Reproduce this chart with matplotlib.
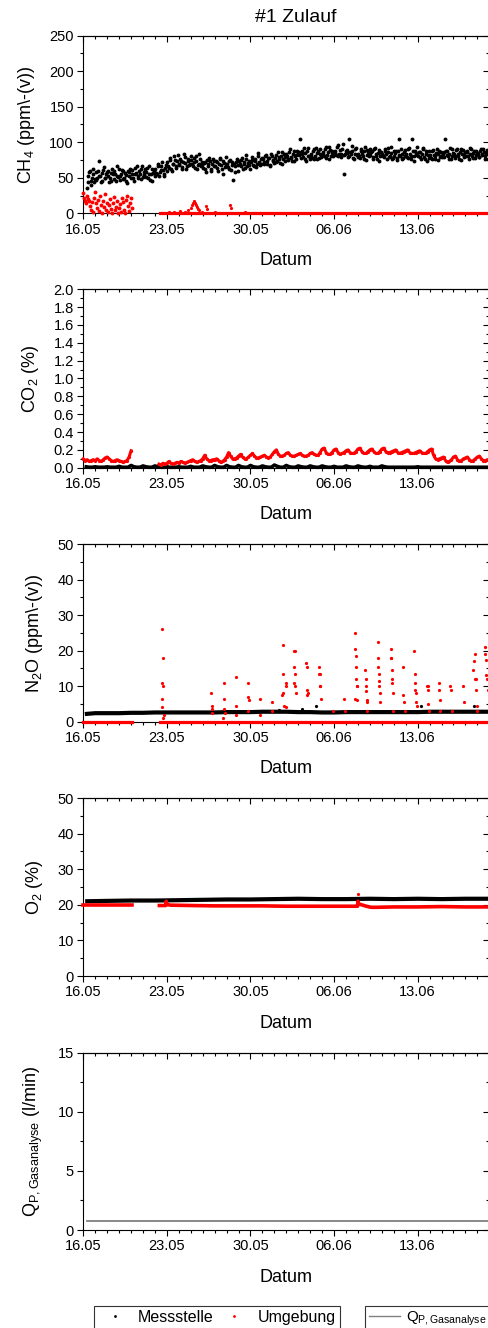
import matplotlib
matplotlib.use("Agg")
import matplotlib.pyplot as plt
import matplotlib.dates as mdates
from matplotlib.lines import Line2D
from matplotlib.ticker import MultipleLocator, FixedLocator, FormatStrFormatter
import numpy as np
import pandas as pd

plt.rcParams['font.family'] = ['Liberation Sans', 'DejaVu Sans']
plt.rcParams['mathtext.fontset'] = 'custom'
plt.rcParams['mathtext.rm'] = 'Liberation Sans'
plt.rcParams['mathtext.it'] = 'Liberation Sans:italic'
plt.rcParams['mathtext.bf'] = 'Liberation Sans:bold'

# ---------------- data ----------------
title = "#1 Zulauf"
base_date = "2019-05-16"
x_end_date = "2019-06-19"
tick_dates = ["2019-05-16", "2019-05-23", "2019-05-30", "2019-06-06", "2019-06-13"]
series_labels = ["Messstelle", "Umgebung"]
flow_label = r"Q$_{\mathrm{P,Gasanalyse}}$"

# CH4 Messstelle, readings every 3 h from 16.05 07:00 (a) and from 08:30 (b)
ch4_mess_a_start = "2019-05-16 07:00"
ch4_mess_a = [
    36, 52, 60, 45, 55, 44,
    58, 49, 74, 53, 46, 61, 50, 55,
    52, 44, 57, 63, 48, 55, 66, 51,
    47, 56, 60, 50, 54, 43, 58, 62,
    55, 49, 64, 57, 52, 60, 48, 67,
    54, 62, 58, 50, 66, 56, 46, 60,
    63, 55, 70, 58, 66, 61, 52, 68,
    72, 64, 78, 60, 70, 75, 66, 82,
    68, 74, 62, 84, 71, 66, 77, 70,
    75, 66, 72, 80, 63, 70, 76, 68,
    64, 72, 58, 70, 78, 62, 69, 74,
    66, 72, 60, 76, 68, 55, 71, 79,
    70, 63, 75, 68, 47, 66, 72, 60,
    73, 67, 78, 70, 64, 82, 71, 68,
    72, 79, 66, 74, 70, 85, 68, 76,
    76, 70, 82, 73, 78, 68, 80, 74,
    78, 72, 86, 76, 81, 70, 84, 79,
    80, 75, 90, 78, 84, 73, 82, 88,
    82, 104, 88, 79, 85, 74, 92, 80,
    84, 78, 90, 81, 76, 88, 83, 79,
    86, 80, 93, 82, 77, 89, 85, 81,
    88, 82, 96, 84, 79, 91, 55, 83,
    85, 79, 104, 83, 88, 76, 90, 82,
    84, 78, 91, 80, 87, 75, 89, 81,
    82, 88, 77, 92, 80, 85, 74, 86,
    83, 79, 90, 76, 86, 81, 93, 78,
    81, 87, 75, 105, 80, 84, 78, 89,
    84, 78, 92, 80, 104, 74, 88, 82,
    80, 86, 76, 90, 79, 84, 73, 87,
    82, 77, 89, 80, 85, 75, 88, 81,
    79, 86, 104, 88, 81, 83, 76, 90,
    83, 78, 91, 80, 86, 75, 89, 82,
    81, 87, 77, 92, 80, 85, 78, 88,
    84, 79, 90, 82, 86, 76, 89, 83,
]
ch4_mess_b_start = "2019-05-16 08:30"
ch4_mess_b = [
    44, 58, 40, 50, 62, 48,
    47, 60, 52, 44, 57, 65, 49, 58,
    60, 50, 46, 55, 59, 45, 53, 62,
    53, 61, 48, 57, 45, 59, 52, 49,
    61, 46, 56, 66, 50, 55, 63, 51,
    58, 51, 64, 55, 47, 62, 57, 53,
    57, 66, 52, 61, 72, 56, 64, 59,
    66, 75, 62, 70, 80, 64, 73, 69,
    76, 65, 72, 79, 63, 74, 68, 81,
    70, 78, 64, 73, 68, 84, 66, 72,
    71, 62, 75, 66, 73, 60, 77, 67,
    73, 64, 69, 78, 62, 74, 65, 70,
    65, 74, 61, 72, 70, 58, 76, 68,
    69, 75, 63, 72, 77, 66, 74, 62,
    75, 68, 77, 65, 80, 72, 70, 78,
    72, 80, 70, 78, 66, 83, 75, 71,
    82, 74, 79, 71, 86, 77, 73, 83,
    77, 86, 79, 74, 88, 81, 76, 85,
    86, 78, 83, 92, 77, 88, 81, 76,
    80, 87, 76, 92, 85, 78, 90, 82,
    83, 91, 78, 86, 94, 80, 88, 84,
    85, 94, 80, 89, 83, 97, 82, 88,
    89, 80, 86, 95, 78, 84, 92, 79,
    80, 88, 84, 77, 93, 82, 86, 90,
    86, 79, 91, 83, 76, 89, 81, 84,
    80, 88, 83, 92, 79, 85, 77, 87,
    85, 78, 88, 82, 91, 77, 86, 80,
    79, 90, 83, 76, 88, 81, 85, 93,
    86, 79, 84, 92, 77, 88, 82, 78,
    78, 87, 82, 76, 90, 84, 79, 86,
    84, 79, 88, 82, 77, 92, 80, 85,
    80, 89, 83, 77, 91, 84, 79, 86,
    86, 80, 84, 90, 78, 88, 82, 85,
    79, 88, 83, 91, 80, 85, 77, 87,
]
# CH4 Umgebung, part 1 every 2 h from 16.05 00:00
ch4_umg1_start = "2019-05-16 00:00"
ch4_umg1 = [
    28, 22, 18, 15, 25, 20, 17, 10, 5, 16, 2, 22,
    30, 14, 8, 19, 3, 24, 12, 1, 17, 9, 27, 5,
    15, 2, 11, 20, 6, 0, 14, 23, 4, 9, 18, 1,
    7, 13, 2, 22, 16, 5, 0, 19, 25, 10, 3, 14,
    21, 8,
]
# CH4 Umgebung, part 2: baseline (days since 16.05) and single readings
ch4_umg2_day = [6.4, 34.0]
ch4_umg2_val = [0.0, 0.0]
ch4_umg_pts_day = [7.2, 7.6, 8.1, 8.5, 8.8, 9.0, 9.1, 9.2, 9.3, 9.35, 9.4, 9.5,
                   9.6, 9.7, 9.9, 10.3, 10.35, 11.0, 12.3, 12.35, 13.5, 14.8]
ch4_umg_pts_val = [2, 1.5, 3, 2, 5, 8, 11, 14, 17, 15, 12, 9,
                   6, 4, 2, 10, 6, 2, 12, 7, 1.5, 1]

# CO2 Messstelle, every 6 h from 16.05 06:00
co2_mess_start = "2019-05-16 06:00"
co2_mess = [
    0.01, 0.005, 0.005,
    0.01, 0.005, 0.005, 0.005,
    0.01, 0.005, 0.005, 0.005,
    0.015, 0.005, 0.005, 0.005,
    0.025, 0.01, 0.005, 0.005,
    0.02, 0.01, 0.005, 0.005,
    0.02, 0.01, 0.005, 0.005,
    0.01, 0.005, 0.005, 0.005,
    0.01, 0.005, 0.005, 0.005,
    0.015, 0.005, 0.005, 0.005,
    0.02, 0.01, 0.005, 0.005,
    0.025, 0.01, 0.005, 0.005,
    0.025, 0.01, 0.005, 0.005,
    0.025, 0.01, 0.005, 0.005,
    0.025, 0.01, 0.005, 0.005,
    0.02, 0.01, 0.005, 0.005,
    0.03, 0.015, 0.005, 0.005,
    0.025, 0.01, 0.005, 0.005,
    0.02, 0.01, 0.005, 0.005,
    0.02, 0.01, 0.005, 0.005,
    0.02, 0.01, 0.005, 0.005,
    0.015, 0.005, 0.005, 0.005,
    0.02, 0.01, 0.005, 0.005,
    0.02, 0.01, 0.005, 0.005,
    0.015, 0.005, 0.005, 0.005,
    0.02, 0.01, 0.005, 0.005,
    0.005, 0.005, 0.005, 0.005,
    0.005, 0.005, 0.005, 0.005,
    0.01, 0.005, 0.005, 0.005,
    0.005, 0.005, 0.005, 0.005,
    0.005, 0.005, 0.005, 0.005,
    0.005, 0.005, 0.005, 0.005,
    0.005, 0.005, 0.005, 0.005,
    0.005, 0.005, 0.005, 0.005,
    0.005,
]
# CO2 Umgebung, every 4 h
co2_umg1_start = "2019-05-16 00:00"
co2_umg1 = [
    0.10, 0.08, 0.09, 0.07, 0.08, 0.09,
    0.08, 0.10, 0.08, 0.07, 0.09, 0.11,
    0.12, 0.10, 0.08, 0.07, 0.08, 0.09,
    0.08, 0.07, 0.06, 0.07, 0.08, 0.12,
    0.19,
]
co2_umg2_start = "2019-05-22 08:00"
co2_umg2 = [
    0.04, 0.03, 0.05, 0.04,
    0.05, 0.07, 0.05, 0.04, 0.05, 0.06,
    0.05, 0.07, 0.06, 0.05, 0.06, 0.07,
    0.08, 0.09, 0.07, 0.06, 0.07, 0.08,
    0.10, 0.14, 0.10, 0.08, 0.08, 0.09,
    0.09, 0.10, 0.08, 0.06, 0.07, 0.09,
    0.12, 0.17, 0.13, 0.10, 0.10, 0.11,
    0.13, 0.15, 0.12, 0.10, 0.10, 0.12,
    0.14, 0.16, 0.13, 0.11, 0.11, 0.12,
    0.13, 0.14, 0.12, 0.11, 0.12, 0.15,
    0.18, 0.20, 0.15, 0.13, 0.13, 0.14,
    0.16, 0.17, 0.14, 0.13, 0.13, 0.14,
    0.15, 0.16, 0.14, 0.13, 0.13, 0.14,
    0.16, 0.17, 0.15, 0.14, 0.14, 0.17,
    0.21, 0.22, 0.17, 0.15, 0.15, 0.17,
    0.20, 0.21, 0.17, 0.15, 0.16, 0.17,
    0.19, 0.20, 0.17, 0.16, 0.16, 0.18,
    0.21, 0.22, 0.18, 0.16, 0.16, 0.18,
    0.20, 0.21, 0.18, 0.16, 0.16, 0.18,
    0.21, 0.22, 0.18, 0.17, 0.17, 0.18,
    0.19, 0.20, 0.17, 0.16, 0.17, 0.18,
    0.19, 0.20, 0.17, 0.16, 0.16, 0.17,
    0.18, 0.19, 0.17, 0.16, 0.16, 0.18,
    0.20, 0.21, 0.14, 0.10, 0.09, 0.10,
    0.11, 0.12, 0.08, 0.06, 0.07, 0.09,
    0.12, 0.13, 0.09, 0.07, 0.08, 0.10,
    0.11, 0.12, 0.09, 0.07, 0.08, 0.10,
    0.12, 0.13, 0.10, 0.08, 0.08, 0.09,
    0.08,
]

# N2O Messstelle (days since 16.05)
n2o_mess_day = [0.3, 1, 2, 3, 4, 5, 6, 7, 8, 9, 10, 11, 12, 13, 14, 15, 16, 17,
                18, 19, 20, 21, 22, 23, 24, 25, 26, 27, 28, 29, 30, 31, 32, 33, 34]
n2o_mess_val = [2.2, 2.4, 2.4, 2.4, 2.5, 2.5, 2.6, 2.6, 2.6, 2.6, 2.6, 2.6, 2.7,
                2.7, 2.7, 2.8, 2.8, 2.8, 2.7, 2.7, 2.6, 2.6, 2.7, 2.7, 2.7, 2.7,
                2.7, 2.7, 2.7, 2.8, 2.8, 2.8, 2.8, 2.8, 2.8]
n2o_mess_pts_day = [16.4, 18.3, 19.5, 28.3, 32.7]
n2o_mess_pts_val = [3.3, 3.6, 4.5, 4.5, 4.4]
# N2O Umgebung
n2o_umg1_day = [0.0, 4.1]
n2o_umg1_val = [0.0, 0.0]
n2o_umg2_day = [6.4, 34.0]
n2o_umg2_val = [0.0, 0.0]
n2o_umg_pts_day = [
    6.55, 6.62, 6.66, 6.58, 6.70, 6.61, 6.68, 6.75,
    10.72, 10.77, 10.80, 10.75,
    11.75, 11.80, 11.78, 11.85, 11.70,
    12.78, 12.80, 12.75,
    13.78, 13.82, 13.85, 13.80,
    14.78, 14.82,
    15.78, 15.82,
    16.70, 16.72, 16.75, 16.68, 16.78,
    16.95, 17.00, 16.98,
    17.62, 17.68, 17.70, 17.75, 17.65, 17.72, 17.80,
    18.65, 18.70, 18.72, 18.78, 18.75,
    19.75, 19.78, 19.82, 19.85, 19.80, 19.88,
    20.90,
    21.82, 21.88,
    22.75, 22.77, 22.80, 22.82, 22.85, 22.88, 22.90, 22.78, 22.95,
    23.62, 23.65, 23.70, 23.68, 23.75, 23.72, 23.80,
    24.65, 24.70, 24.72, 24.75, 24.78, 24.80, 24.82, 24.88,
    25.75, 25.78, 25.80, 25.82, 25.85, 25.88, 25.90, 25.95,
    26.75, 26.80, 26.85, 26.90,
    27.72, 27.75, 27.78, 27.80, 27.85, 27.88, 27.92,
    28.80, 28.85, 28.88, 28.90, 28.95,
    29.78, 29.80, 29.85, 29.90,
    30.72, 30.78, 30.85,
    31.78, 31.85,
    32.65, 32.72, 32.78, 32.82, 32.88, 32.92, 32.95, 33.00,
    33.62, 33.68, 33.72, 33.75, 33.80, 33.85,
]
n2o_umg_pts_val = [
    11, 26, 18, 6.5, 10, 4, 1, 2,
    8, 4.5, 2.5, 3.5,
    11, 6.5, 3.5, 2.5, 1,
    12.5, 4.5, 2,
    11, 7, 6, 3,
    6.5, 2,
    5.5, 3,
    21.5, 13.5, 8, 7.5, 4.5,
    11, 10, 4,
    15.5, 20, 20, 13.5, 11, 10, 8,
    16.5, 15.5, 9, 8, 7.5,
    15.5, 13.5, 13.5, 10, 10, 6.5,
    3,
    6.5, 3,
    25, 20.5, 18.5, 15.5, 12, 10, 10, 6.5, 6,
    14.5, 12, 10, 8.5, 6, 5.5, 3,
    22.5, 18, 15.5, 13.5, 11.5, 10, 8, 5.5,
    20.5, 18, 18, 14.5, 12, 11, 8, 3,
    15.5, 7.5, 5.5, 3,
    20, 13.5, 11, 9, 8, 5.5, 4.5,
    10, 10, 9, 5, 3,
    11, 9, 6, 3,
    10, 9, 3,
    10, 5.5,
    14.5, 17, 19, 12, 12, 9, 4.5, 3,
    21, 19, 17.5, 13, 12, 9,
]

# O2
o2_mess_day = [0.33, 2, 4, 6, 8, 10, 12, 14, 16, 18, 20, 22, 24, 26, 28, 30, 32, 34]
o2_mess_val = [21.0, 21.1, 21.2, 21.2, 21.3, 21.4, 21.5, 21.5, 21.6, 21.7,
               21.6, 21.6, 21.7, 21.6, 21.7, 21.6, 21.7, 21.7]
o2_umg1_day = [0.0, 4.1]
o2_umg1_val = [19.95, 19.95]
o2_umg2_day = [6.37, 6.9, 6.95, 7.0, 7.3, 9, 11, 13, 15, 17, 19, 21, 22.97,
               23.0, 23.05, 23.3, 23.7, 24.1, 24.6, 26, 28, 30, 32, 34]
o2_umg2_val = [19.8, 19.8, 21.0, 20.1, 19.9, 19.8, 19.7, 19.7, 19.7, 19.6, 19.6,
               19.6, 19.6, 21.0, 20.3, 20.0, 19.6, 19.3, 19.3, 19.4, 19.4, 19.5,
               19.4, 19.4]
o2_umg_pts_day = [23.0]
o2_umg_pts_val = [23.0]

# Q flow
q_day = [0.3, 34.0]
q_val = [0.72, 0.72]

# ---------------- helpers ----------------
BASE = pd.Timestamp(base_date)


def days_to_num(days):
    return mdates.date2num(BASE + pd.to_timedelta(np.asarray(days, float), unit="D"))


def reg_to_num(start, n, freq):
    return mdates.date2num(pd.date_range(start, periods=n, freq=freq))


RED = "#ff0000"
BLK = "#000000"
MS = 2.3

fig = plt.figure(figsize=(4.88, 13.28), dpi=100)
W, H = 488.0, 1328.0
left_px, right_px = 83.3, 489.3
panels_px = [(35.7, 213.3), (289.3, 467.7), (544.0, 721.7), (798.0, 976.0), (1052.7, 1230.0)]
axes = []
for top, bot in panels_px:
    ax = fig.add_axes([left_px / W, 1 - bot / H, (right_px - left_px) / W, (bot - top) / H])
    axes.append(ax)

x0 = mdates.date2num(pd.Timestamp(base_date))
x1 = mdates.date2num(pd.Timestamp(x_end_date))
xt = mdates.date2num(pd.to_datetime(tick_dates))

panel_cfg = [
    dict(ylim=(0, 250), major=50, minor=25, fmt="%d", ylabel=r"CH$_4$ (ppm\-(v))"),
    dict(ylim=(0, 2.0), major=0.2, minor=0.1, fmt="%.1f", ylabel=r"CO$_2$ (%)"),
    dict(ylim=(0, 50), major=10, minor=5, fmt="%d", ylabel=r"N$_2$O (ppm\-(v))"),
    dict(ylim=(0, 50), major=10, minor=5, fmt="%d", ylabel=r"O$_2$ (%)"),
    dict(ylim=(0, 15), major=5, minor=2.5, fmt="%d", ylabel=flow_label + " (l/min)"),
]

for ax, cfg in zip(axes, panel_cfg):
    ax.set_xlim(x0, x1)
    ax.set_ylim(*cfg["ylim"])
    ax.xaxis.set_major_locator(FixedLocator(xt))
    ax.xaxis.set_minor_locator(MultipleLocator(1))
    ax.xaxis.set_major_formatter(mdates.DateFormatter("%d.%m"))
    ax.yaxis.set_major_locator(MultipleLocator(cfg["major"]))
    ax.yaxis.set_minor_locator(MultipleLocator(cfg["minor"]))
    ax.yaxis.set_major_formatter(FormatStrFormatter(cfg["fmt"]))
    ax.tick_params(which="both", direction="out", top=False, right=False,
                   labelsize=10.5, width=0.8, color="black", pad=2.5)
    ax.tick_params(which="major", length=4.2)
    ax.tick_params(which="minor", length=2.0)
    for s in ax.spines.values():
        s.set_linewidth(0.8)
    ax.set_xlabel("Datum", fontsize=13, labelpad=11)
    ax.set_ylabel(cfg["ylabel"], fontsize=13, labelpad=9)
    # top / right ticks pointing inward
    sx = ax.secondary_xaxis("top")
    sx.xaxis.set_major_locator(FixedLocator(xt))
    sx.xaxis.set_minor_locator(MultipleLocator(1))
    sx.tick_params(which="both", direction="in", labeltop=False, width=0.8)
    sx.tick_params(which="major", length=4.2)
    sx.tick_params(which="minor", length=2.0)
    sx.spines["top"].set_linewidth(0.8)
    sy = ax.secondary_yaxis("right")
    sy.yaxis.set_major_locator(MultipleLocator(cfg["major"]))
    sy.yaxis.set_minor_locator(MultipleLocator(cfg["minor"]))
    sy.tick_params(which="both", direction="in", labelright=False, width=0.8)
    sy.tick_params(which="major", length=4.2)
    sy.tick_params(which="minor", length=2.0)

dot = dict(ls="none", marker="o", ms=MS, mew=0, clip_on=False, zorder=3)
dot_big = dict(dot, ms=2.8)

# CH4
ax = axes[0]
ax.plot(reg_to_num(ch4_mess_a_start, len(ch4_mess_a), "3h"), ch4_mess_a, color=BLK, **dot_big)
ax.plot(reg_to_num(ch4_mess_b_start, len(ch4_mess_b), "3h"), ch4_mess_b, color=BLK, **dot_big)
ax.plot(reg_to_num(ch4_umg1_start, len(ch4_umg1), "2h"), ch4_umg1, color=RED, **dot_big)
ax.plot(days_to_num(ch4_umg2_day), ch4_umg2_val, color=RED, lw=2.3, clip_on=False, zorder=3)
ax.plot(days_to_num(ch4_umg_pts_day), ch4_umg_pts_val, color=RED, **dot)

# CO2
ax = axes[1]
ax.plot(reg_to_num(co2_mess_start, len(co2_mess), "6h"), co2_mess, color=BLK, lw=2.6,
        clip_on=False, zorder=3)
ax.plot(reg_to_num(co2_umg1_start, len(co2_umg1), "4h"), co2_umg1, color=RED, lw=2.2,
        marker="o", ms=MS, mew=0, clip_on=False, zorder=3)
ax.plot(reg_to_num(co2_umg2_start, len(co2_umg2), "4h"), co2_umg2, color=RED, lw=2.2,
        marker="o", ms=MS, mew=0, clip_on=False, zorder=3)

# N2O
ax = axes[2]
ax.plot(days_to_num(n2o_mess_day), n2o_mess_val, color=BLK, lw=3.0, clip_on=False, zorder=3)
ax.plot(days_to_num(n2o_mess_pts_day), n2o_mess_pts_val, color=BLK, **dot)
ax.plot(days_to_num(n2o_umg1_day), n2o_umg1_val, color=RED, lw=2.3, clip_on=False, zorder=3)
ax.plot(days_to_num(n2o_umg2_day), n2o_umg2_val, color=RED, lw=2.3, clip_on=False, zorder=3)
ax.plot(days_to_num(n2o_umg_pts_day), n2o_umg_pts_val, color=RED, **dot)

# O2
ax = axes[3]
ax.plot(days_to_num(o2_mess_day), o2_mess_val, color=BLK, lw=3.0, clip_on=False, zorder=3)
ax.plot(days_to_num(o2_umg1_day), o2_umg1_val, color=RED, lw=2.6, clip_on=False, zorder=3)
ax.plot(days_to_num(o2_umg2_day), o2_umg2_val, color=RED, lw=2.6, clip_on=False, zorder=3)
ax.plot(days_to_num(o2_umg_pts_day), o2_umg_pts_val, color=RED, **dot)

# Q
ax = axes[4]
ax.plot(days_to_num(q_day), q_val, color="#808080", lw=1.3, clip_on=False, zorder=3)

# title
fig.text(296 / W, 1 - 17 / H, title, ha="center", va="center", fontsize=14)

# legends
h_mess = Line2D([], [], ls="none", marker="o", ms=2.0, mew=0, color=BLK)
h_umg = Line2D([], [], ls="none", marker="o", ms=2.0, mew=0, color=RED)
leg1 = fig.legend([h_mess, h_umg], series_labels, loc="upper left",
                  bbox_to_anchor=(94 / W, 1 - 1305.7 / H), bbox_transform=fig.transFigure,
                  ncol=2, frameon=True, fancybox=False, edgecolor="black", fontsize=11.5,
                  borderpad=0.25, handlelength=2.1, handletextpad=0.4, columnspacing=0.25,
                  borderaxespad=0)
leg1.get_frame().set_linewidth(0.8)
h_q = Line2D([], [], color="#808080", lw=1.0)
leg2 = fig.legend([h_q], [flow_label], loc="upper left",
                  bbox_to_anchor=(365 / W, 1 - 1305.7 / H), bbox_transform=fig.transFigure,
                  frameon=True, fancybox=False, edgecolor="black", fontsize=10.8,
                  borderpad=0.25, handlelength=2.1, handletextpad=0.35, borderaxespad=0)
leg2.get_frame().set_linewidth(0.8)

fig.savefig("out.png", dpi=100)
